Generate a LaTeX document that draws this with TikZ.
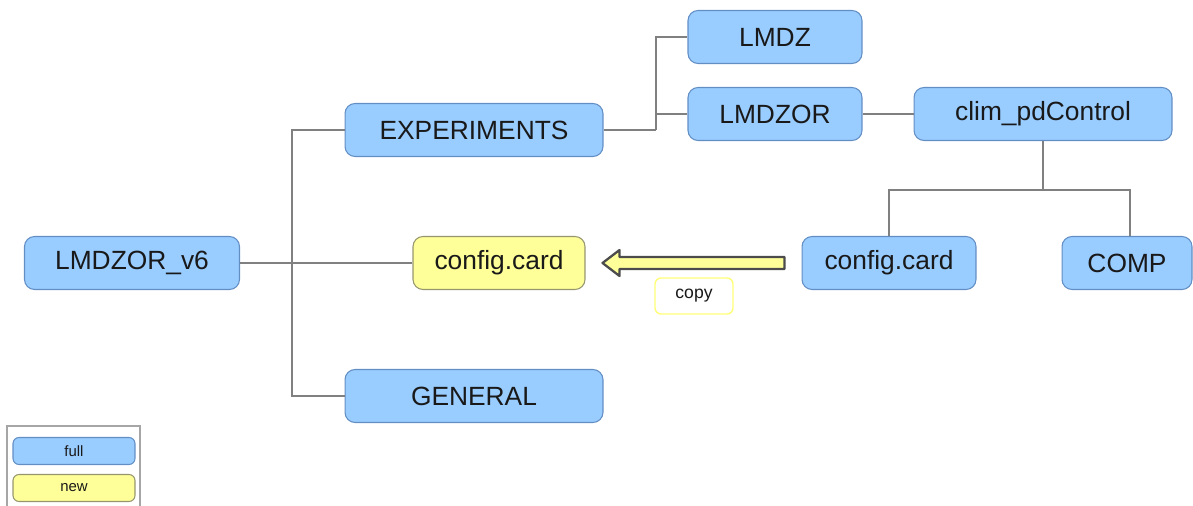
\documentclass[tikz,border=0pt]{standalone}
\usepackage{fontspec}
\setmainfont{Liberation Sans}
\usetikzlibrary{calc}

\definecolor{fullfill}{RGB}{153,204,255}
\definecolor{fullline}{RGB}{98,142,196}
\definecolor{newfill}{RGB}{255,255,153}
\definecolor{newline}{RGB}{150,150,110}
\definecolor{treeline}{RGB}{128,128,128}
\definecolor{inktext}{RGB}{25,25,25}

\tikzset{
	fullbox/.style={draw=fullline, fill=fullfill, rounded corners=0.2cm, minimum height=1.06cm, text=inktext, font=\fontsize{15}{18}\selectfont, line width=0.6pt},
	newbox/.style={fullbox, draw=newline, fill=newfill},
	tree/.style={draw=treeline, line width=0.7pt},
}

\begin{document}
\begin{tikzpicture}[x=0.02cm, y=-0.02cm]
	\useasboundingbox (0,0) rectangle (1193,506);
	% directory boxes
	\node[fullbox, minimum width=4.3cm] (root) at (132,263) {LMDZOR\_v6};
	\node[fullbox, minimum width=5.16cm] (exper) at (474,130) {EXPERIMENTS};
	\node[newbox, minimum width=3.44cm] (cardL) at (499,263) {config.card};
	\node[fullbox, minimum width=5.16cm] (general) at (474,396) {GENERAL};
	\node[fullbox, minimum width=3.48cm] (lmdz) at (775,37) {LMDZ};
	\node[fullbox, minimum width=3.48cm] (lmdzor) at (775,114) {LMDZOR};
	\node[fullbox, minimum width=5.16cm] (clim) at (1043,114) {clim\_pdControl};
	\node[fullbox, minimum width=3.48cm] (cardR) at (889,263) {config.card};
	\node[fullbox, minimum width=2.6cm] (comp) at (1127,263) {COMP};
	% tree lines
	\coordinate (trunk) at (292,263);
	\draw[tree] (root.east) -- (trunk);
	\draw[tree] (exper.west) -| (trunk) |- (general.west);
	\draw[tree] (trunk) -- (cardL.west);
	\coordinate (fork) at (656,130);
	\draw[tree] (exper.east) -- (fork);
	\draw[tree] (fork) |- (lmdz.west);
	\draw[tree] (fork |- lmdzor.west) -- (lmdzor.west);
	\draw[tree] (lmdzor.east) -- (clim.west);
	\coordinate (split) at (1043,190);
	\draw[tree] (clim.south) -- (split);
	\draw[tree] (cardR.north) |- (split) -| (comp.north -| 1130,0);
	% copy arrow
	\coordinate (cpyS) at ($(cardR.west)+(-17,0)$);
	\coordinate (cpyE) at ($(cardL.east)+(17,0)$);
	\draw[draw=black!70, fill=newfill, line width=1.3pt, line join=round]
		($(cpyS)+(0,-6)$) -- ($(cpyE)+(17,-6)$) -- ($(cpyE)+(17,-13)$) -- (cpyE)
		-- ($(cpyE)+(17,13)$) -- ($(cpyE)+(17,6)$) -- ($(cpyS)+(0,6)$) -- cycle;
	\node[draw=newfill!80!yellow, fill=white, rounded corners=0.12cm, line width=0.8pt,
		minimum width=1.56cm, minimum height=0.72cm, text=inktext, font=\fontsize{10}{12}\selectfont]
		(copy) at (694,296) {copy};
	% legend
	\draw[draw=black!35, line width=0.8pt] (7,506) -- (7,426) -- (140,426) -- (140,506);
	\node[fullbox, minimum width=2.44cm, minimum height=0.54cm, rounded corners=0.12cm,
		font=\fontsize{8.5}{10}\selectfont] (legfull) at (74,451) {full};
	\node[newbox, minimum width=2.44cm, minimum height=0.54cm, rounded corners=0.12cm,
		font=\fontsize{8.5}{10}\selectfont] (legnew) at (74,488) {new};
\end{tikzpicture}
\end{document}
